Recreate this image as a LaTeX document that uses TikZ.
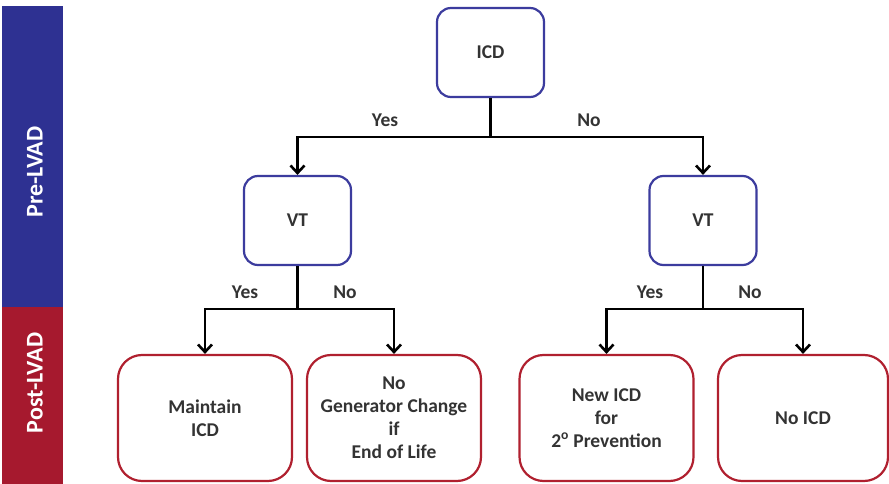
\documentclass[tikz,border=0pt]{standalone}
\usepackage{fontspec}
\setmainfont{Carlito}
\usetikzlibrary{arrows.meta}
\definecolor{preblue}{HTML}{2E3192}
\definecolor{postred}{HTML}{A6192E}
\definecolor{boxblue}{HTML}{3C3C9E}
\definecolor{boxred}{HTML}{B0202F}
\definecolor{txt}{HTML}{333333}
\begin{document}
\begin{tikzpicture}[x=1pt,y=-1pt,
  box/.style={draw, line width=2.2pt, fill=white, text=txt, align=center, inner sep=0pt,
    font=\bfseries\fontsize{19.5}{23}\selectfont},
  prebox/.style={box, draw=boxblue, rounded corners=14pt, minimum width=107pt, minimum height=89pt},
  postbox/.style={box, draw=boxred, rounded corners=24pt, minimum height=126pt},
  link/.style={line width=2.6pt, black},
  arr/.style={link, -{Straight Barb[length=7.5pt,width=14pt]}},
  lbl/.style={text=txt, font=\bfseries\fontsize{19.5}{24}\selectfont},
  band/.style={text=white, rotate=90, font=\bfseries\fontsize{24}{26}\selectfont}]
\useasboundingbox (0,0) rectangle (889,484);
\fill[white] (0,0) rectangle (889,484);

% phase bands
\fill[preblue] (2,6) rectangle (63,307);
\fill[postred] (2,307) rectangle (63,484);
\node[band] (pre) at (35,172) {Pre-LVAD};
\node[band] (post) at (35,383) {Post-LVAD};

% decision boxes
\node[prebox] (icd) at (490.5,52.5) {ICD};
\node[prebox] (vtl) at (297.5,220.5) {VT};
\node[prebox] (vtr) at (703,220.5) {VT};

% outcomes
\node[postbox, minimum width=174pt] (b1) at (205,418) {Maintain\\ICD};
\node[postbox, minimum width=174pt] (b2) at (394,418) {No\\Generator Change\\if\\End of Life};
\node[postbox, minimum width=174pt] (b3) at (606.5,418) {New ICD\\for\\2\textsuperscript{o} Prevention};
\node[postbox, minimum width=170pt] (b4) at (803,418) {No ICD};

% branch points
\coordinate (j1) at (490.5,137);
\coordinate (j2) at (297.5,309);
\coordinate (j3) at (703,309);

\draw[link] (icd) -- (j1);
\draw[arr] (j1) -| (vtl);
\draw[arr] (j1) -| (vtr);
\draw[link] (vtl) -- (j2);
\draw[arr] (j2) -| (b1);
\draw[arr] (j2) -| (b2);
\draw[link] (vtr) -- (j3);
\draw[arr] (j3) -| (b3);
\draw[arr] (j3) -| (b4);

% branch labels
\node[lbl] (y1) at (385,120) {Yes};
\node[lbl] (n1) at (589,120) {No};
\node[lbl] (y2) at (245,292) {Yes};
\node[lbl] (n2) at (345,292) {No};
\node[lbl] (y3) at (650,292) {Yes};
\node[lbl] (n3) at (750,292) {No};
\end{tikzpicture}
\end{document}
